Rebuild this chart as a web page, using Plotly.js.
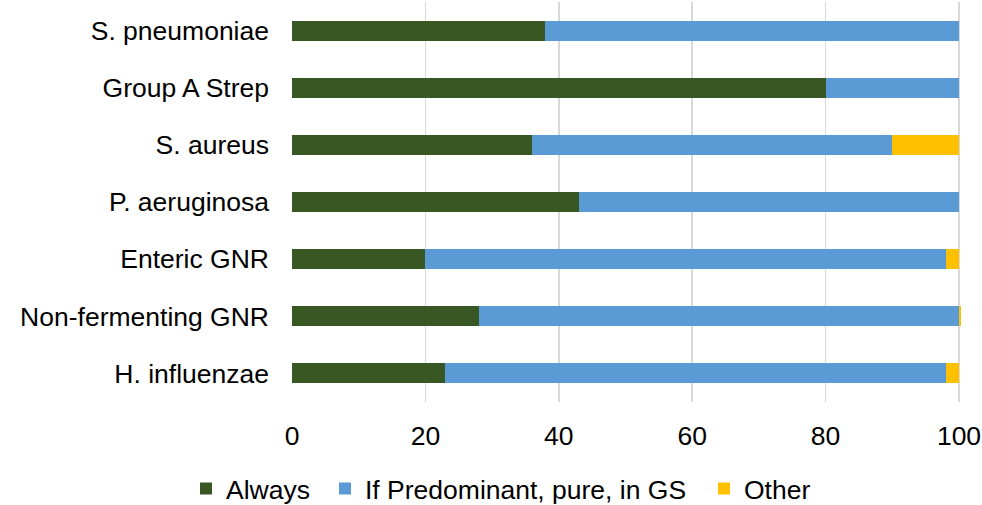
<!DOCTYPE html>
<html>
<head>
<meta charset="utf-8">
<script src="https://cdn.plot.ly/plotly-3.0.1.min.js"></script>
<style>html,body{margin:0;padding:0;background:#fff;}#chart{width:982px;height:505px;}</style>
</head>
<body>
<div id="chart"></div>
<script>
const categories = ["S. pneumoniae", "Group A Strep", "S. aureus", "P. aeruginosa", "Enteric GNR", "Non-fermenting GNR", "H. influenzae"];
const always = [38, 80, 36, 43, 20, 28, 23];
const ifPredominant = [62, 20, 54, 57, 78, 72, 75];
const other = [0, 0, 10, 0, 2, 0.3, 2];
const seriesNames = ["Always", "If Predominant, pure, in GS", "Other"];
const colors = ["#385723", "#5b9bd5", "#ffc000"];
const legendWidths = [94, 334, 70];

const font = {family: "Liberation Sans, Arial, sans-serif", size: 26.5, color: "#000"};
const data = [always, ifPredominant, other].map((vals, i) => ({
  type: "bar",
  orientation: "h",
  name: seriesNames[i],
  y: categories,
  x: vals,
  legendwidth: legendWidths[i],
  marker: {color: colors[i], line: {width: 0}},
  hoverinfo: "x+y+name"
}));

const layout = {
  width: 982, height: 505,
  margin: {l: 292, r: 21, t: 2, b: 103, pad: 0},
  barmode: "stack",
  bargap: 0.65,
  font: font,
  paper_bgcolor: "#fff",
  plot_bgcolor: "#fff",
  showlegend: true,
  xaxis: {
    range: [0, 100.3],
    tickvals: [0, 20, 40, 60, 80, 100],
    ticktext: ["0", "20", "40", "60", "80", "100"],
    showgrid: true, gridcolor: "#d9d9d9", gridwidth: 1.5,
    zeroline: false, showline: false, ticks: "",
    tickfont: font, ticklabelstandoff: 15
  },
  yaxis: {
    autorange: "reversed",
    showgrid: false, zeroline: false, showline: false, ticks: "",
    tickfont: font, ticklabelstandoff: 22
  },
  legend: {
    orientation: "h",
    xref: "container", yref: "container",
    x: 186 / 982, xanchor: "left",
    y: 0.032, yanchor: "middle",
    font: font,
    itemwidth: 30,
    traceorder: "normal"
  }
};

Plotly.newPlot("chart", data, layout, {displayModeBar: false, staticPlot: true});
</script>
</body>
</html>
